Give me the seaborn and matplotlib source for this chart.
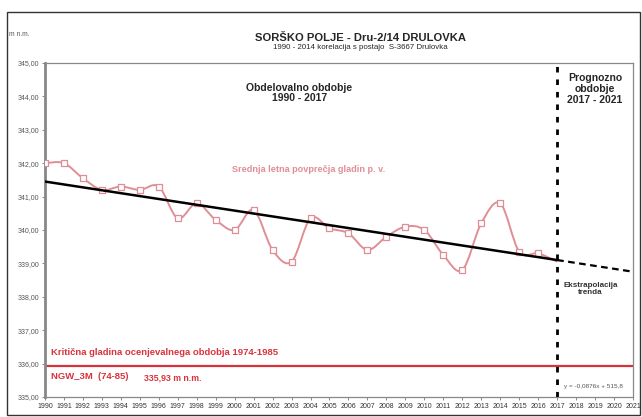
import numpy as np
import pandas as pd
import matplotlib
matplotlib.use("Agg")
import matplotlib.pyplot as plt
from matplotlib.path import Path
from matplotlib.patches import PathPatch, Rectangle
import seaborn as sns

# ------------------------------------------------------------
# Data
# ------------------------------------------------------------
years = list(range(1990, 2018))
levels = [342.00, 342.00, 341.55, 341.20, 341.30, 341.20, 341.30, 340.35,
          340.80, 340.30, 340.00, 340.60, 339.40, 339.05, 340.35, 340.05,
          339.90, 339.40, 339.80, 340.10, 340.00, 339.25, 338.80, 340.20,
          340.80, 339.35, 339.30, 339.05]

trend_years = [1990, 2017]
trend_vals = [341.45, 339.10]
extra_years = [2017, 2021]
extra_vals = [339.10, 338.75]

critical_level = 335.93
split_year = 2017

xticks = list(range(1990, 2022))
yticks = [335, 336, 337, 338, 339, 340, 341, 342, 343, 344, 345]

PINK = "#e08e96"
RED = "#d8333d"

sns.set_style("white")
plt.rcParams['font.family'] = ['Liberation Sans', 'DejaVu Sans']

fig = plt.figure(figsize=(6.42, 4.17), dpi=100)
ax = fig.add_axes([0.070, 0.048, 0.916, 0.801])

# smooth (Excel-like) curve drawn as a Bezier path through the data points
pts = np.column_stack([years, levels]).astype(float)
verts = [tuple(pts[0])]
codes = [Path.MOVETO]
n = len(pts)
for i in range(n - 1):
    p0 = pts[i - 1] if i > 0 else pts[i]
    p1 = pts[i]
    p2 = pts[i + 1]
    p3 = pts[i + 2] if i + 2 < n else pts[i + 1]
    c1 = p1 + (p2 - p0) / 6.0
    c2 = p2 - (p3 - p1) / 6.0
    verts += [tuple(c1), tuple(c2), tuple(p2)]
    codes += [Path.CURVE4] * 3
ax.add_patch(PathPatch(Path(verts, codes), facecolor="none",
                       edgecolor=PINK, lw=1.4, zorder=3))

df = pd.DataFrame({"leto": years[:-1], "gladina": levels[:-1]})
sns.scatterplot(data=df, x="leto", y="gladina", marker="s", s=22,
                facecolor="white", edgecolor=PINK, linewidth=0.9,
                ax=ax, zorder=4)

# trend line + extrapolation
sns.lineplot(x=trend_years, y=trend_vals, color="black", lw=1.8, ax=ax, zorder=5)
ax.plot(extra_years, extra_vals, color="black", lw=1.6, dashes=(3, 2), zorder=5)

# period split and critical level
ax.axvline(split_year, color="black", lw=2.0, dashes=(2, 2.5), zorder=6)
ax.axhline(critical_level, color=RED, lw=1.6, zorder=2)

ax.set_xlim(1990, 2021)
ax.set_ylim(335, 345)
ax.set_xticks(xticks)
ax.set_xticklabels([str(y) for y in xticks], fontsize=5, color="#333333")
ax.set_yticks(yticks)
ax.set_yticklabels([f"{v:.2f}".replace(".", ",") for v in yticks],
                   fontsize=5, color="#555555")
ax.tick_params(axis="both", length=2, width=0.6, color="#777777", pad=2)
ax.tick_params(axis="x", bottom=True)
ax.tick_params(axis="y", left=True)
ax.set_xlabel("")
ax.set_ylabel("")
for side in ["top", "right", "bottom"]:
    ax.spines[side].set_color("#888888")
    ax.spines[side].set_linewidth(0.9)
ax.spines["left"].set_color("#888888")
ax.spines["left"].set_linewidth(2.0)

# annotations
ax.text(2003.4, 344.1, "Obdelovalno obdobje\n1990 - 2017", ha="center", va="center",
        fontsize=7.5, fontweight="bold", linespacing=1.1)
ax.text(2019.0, 344.22, "Prognozno\nobdobje\n2017 - 2021", ha="center", va="center",
        fontsize=7.5, fontweight="bold", linespacing=1.1)
ax.text(1999.85, 341.8, "Srednja letna povprečja gladin p. v.", ha="left", va="center",
        fontsize=6.6, fontweight="bold", color=PINK)
ax.text(2018.75, 338.23, "Ekstrapolacija\ntrenda", ha="center", va="center",
        fontsize=5.8, fontweight="bold", color="#333333", linespacing=1.1)
ax.text(1990.3, 336.32, "Kritična gladina ocenjevalnega obdobja 1974-1985", ha="left",
        va="center", fontsize=6.8, fontweight="bold", color=RED)
ax.text(1990.3, 335.6, "NGW_3M  (74-85)", ha="left", va="center",
        fontsize=6.8, fontweight="bold", color=RED)
ax.text(1995.2, 335.57, "335,93 m n.m.", ha="left", va="center",
        fontsize=6.3, fontweight="bold", color=RED)
ax.text(2017.35, 335.3, "y = -0,0876x + 515,8", ha="left", va="center",
        fontsize=4.6, color="#555555")

fig.text(0.562, 0.909, "SORŠKO POLJE - Dru-2/14 DRULOVKA", ha="center", va="center",
         fontsize=8.1, fontweight="bold")
fig.text(0.562, 0.887, "1990 - 2014 korelacija s postajo  S-3667 Drulovka", ha="center",
         va="center", fontsize=5.7)
fig.text(0.014, 0.918, "m n.m.", ha="left", va="center", fontsize=4.8, color="#555555")

fig.patches.append(Rectangle((0.011, 0.005), 0.986, 0.966, transform=fig.transFigure,
                             fill=False, edgecolor="#333333", lw=1.0))

plt.savefig("out.png", dpi=100)
plt.close()
